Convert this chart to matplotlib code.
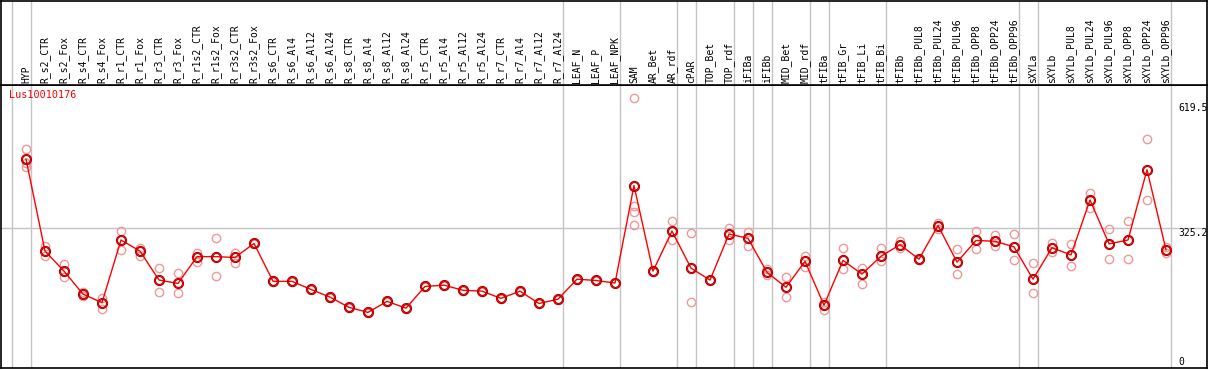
import matplotlib
matplotlib.use("Agg")
import matplotlib.pyplot as plt

# sample groups, mean expression and replicate values
samples = ['HYP', 'R_s2_CTR', 'R_s2_Fox', 'R_s4_CTR', 'R_s4_Fox', 'R_r1_CTR', 'R_r1_Fox',
           'R_r3_CTR', 'R_r3_Fox', 'R_r1s2_CTR', 'R_r1s2_Fox', 'R_r3s2_CTR', 'R_r3s2_Fox',
           'R_s6_CTR', 'R_s6_Al4', 'R_s6_Al12', 'R_s6_Al24', 'R_s8_CTR', 'R_s8_Al4',
           'R_s8_Al12', 'R_s8_Al24', 'R_r5_CTR', 'R_r5_Al4', 'R_r5_Al12', 'R_r5_Al24',
           'R_r7_CTR', 'R_r7_Al4', 'R_r7_Al12', 'R_r7_Al24', 'LEAF_N', 'LEAF_P', 'LEAF_NPK',
           'SAM', 'AR_Bet', 'AR_rdf', 'cPAR', 'TOP_Bet', 'TOP_rdf', 'iFIBa', 'iFIBb',
           'MID_Bet', 'MID_rdf', 'tFIBa', 'tFIB_Gr', 'tFIB_Li', 'tFIB_Bi', 'tFIBb',
           'tFIBb_PUL8', 'tFIBb_PUL24', 'tFIBb_PUL96', 'tFIBb_OPP8', 'tFIBb_OPP24',
           'tFIBb_OPP96', 'sXYLa', 'sXYLb', 'sXYLb_PUL8', 'sXYLb_PUL24', 'sXYLb_PUL96',
           'sXYLb_OPP8', 'sXYLb_OPP24', 'sXYLb_OPP96']

means = [487, 271, 224, 170, 150, 297, 271, 203, 195, 258, 258, 256, 289,
         200, 200, 181, 163, 139, 127, 153, 137, 188, 191, 179, 177,
         160, 177, 148, 158, 205, 202, 196,
         425, 224, 318, 231, 203, 311, 301, 221, 186, 247, 144, 249, 217, 259,
         286, 252, 331, 245, 296, 294, 281, 205, 279, 262, 391, 288, 297, 462, 274]

replicates = [[511, 477, 469], [283, 259], [240, 211], [176, 166], [162, 134],
              [318, 274], [279, 259], [231, 176], [219, 172], [266, 246], [301, 213],
              [267, 244], [291, 287], [201, 199], [201, 199], [182, 180], [164, 162],
              [140, 138], [128, 126], [154, 152], [138, 136], [189, 187], [192, 190],
              [180, 178], [178, 176], [161, 159], [178, 176], [149, 147], [159, 157],
              [206, 204], [203, 201], [197, 195],
              [630, 377, 362, 332], [225, 223], [342, 296], [313, 151], [204, 202],
              [326, 296], [317, 284], [229, 215], [210, 163], [260, 233], [152, 133],
              [279, 228], [231, 193], [278, 248], [295, 279], [253, 250], [336, 324],
              [275, 217], [318, 275], [309, 282], [311, 249], [242, 172], [290, 270],
              [288, 236], [407, 372], [322, 252], [342, 252], [534, 391], [280, 266]]

# index of last sample in each tissue block (gray separators)
group_ends = [-1, 0, 28, 31, 34, 35, 37, 38, 39, 41, 42, 45, 52, 53, 60]
gene = 'Lus10010176'
ref_ticks = [619.5, 325.2]

W, H = 1209, 370
fig = plt.figure(figsize=(W / 100, H / 100), dpi=100)
plt.rcParams['font.family'] = ['DejaVu Sans Mono']

x = list(range(len(samples)))
xlim = ((1 - 26) / 19, (1207 - 26) / 19)
sep = 85
label_x = (1178 - 26) / 19  # right-hand value labels

ax = fig.add_axes([1 / W, 2 / H, 1206 / W, (H - sep - 2) / H])
top = fig.add_axes([1 / W, (H - sep) / H, 1206 / W, (sep - 1) / H])

for a in (ax, top):
    a.set_xlim(*xlim)
    a.set_xticks([])
    a.set_yticks([])
    for s in a.spines.values():
        s.set_color('black')
        s.set_linewidth(1.2)
    for g in group_ends:
        a.axvline(g + 0.25, color='#c4c4c4', lw=1, zorder=1)

ax.set_ylim(-3.5, 661)
top.set_ylim(0, sep)

ax.axhline(ref_ticks[1], color='#c4c4c4', lw=1, zorder=1)

# replicate points
for i, reps in enumerate(replicates):
    ax.plot([i] * len(reps), reps, 'o', ms=6, mfc='none', mec='#f09898',
            mew=1, zorder=2)

ax.plot(x, means, '-', color='red', lw=1, zorder=3)
ax.plot(x, means, 'o', ms=6.5, mfc='none', mec='#7a0000', mew=1.5, zorder=4)
ax.plot(x, means, 'o', ms=6.5, mfc='none', mec='red', mew=0.8, zorder=5)

for v in ref_ticks:
    ax.text(label_x, v, f'{v}', fontsize=7, va='top', ha='left')
ax.text(label_x, 0, '0', fontsize=7, va='bottom', ha='left')

ax.text(-0.9, 650, gene, color='red', fontsize=7.3, va='top', ha='left')

for i, name in enumerate(samples):
    top.text(i, 2, name, rotation=90, fontsize=7, ha='center', va='bottom')

fig.savefig('out.png', dpi=100)
